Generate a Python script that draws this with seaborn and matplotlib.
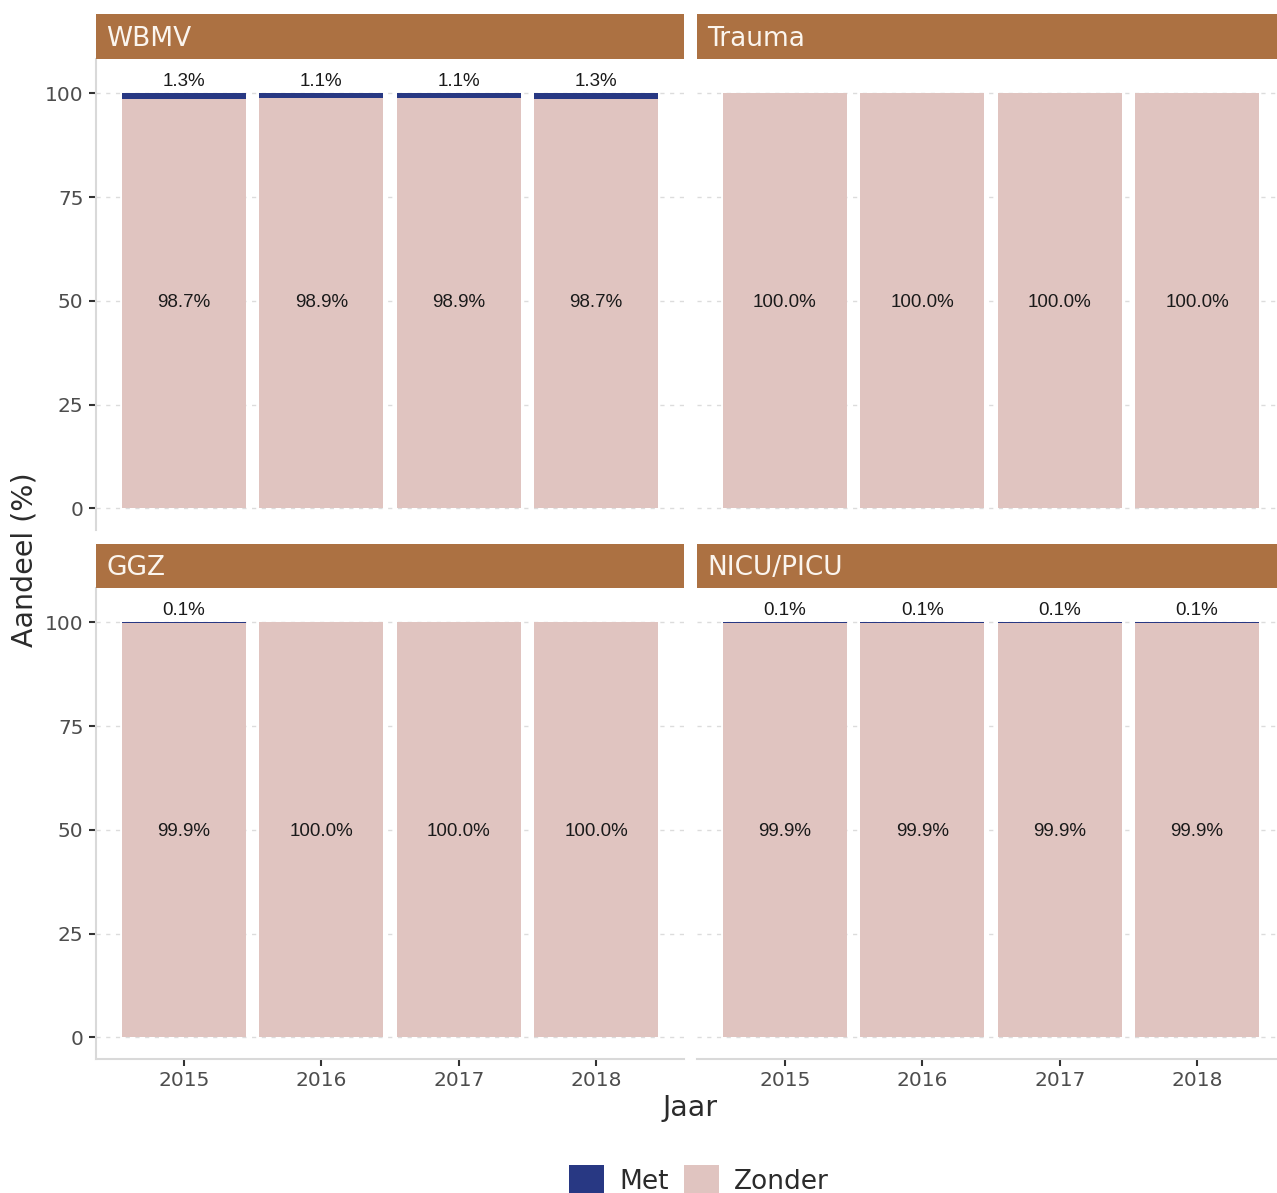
import matplotlib
matplotlib.use("Agg")
import matplotlib.pyplot as plt
from matplotlib.patches import Patch
import pandas as pd
import seaborn as sns

# data (percentages)
years = ["2015", "2016", "2017", "2018"]
panels = ["WBMV", "Trauma", "GGZ", "NICU/PICU"]
met_wbmv = [1.3, 1.1, 1.1, 1.3]
zonder_wbmv = [98.7, 98.9, 98.9, 98.7]
met_trauma = [0.0, 0.0, 0.0, 0.0]
zonder_trauma = [100.0, 100.0, 100.0, 100.0]
met_ggz = [0.1, 0.0, 0.0, 0.0]
zonder_ggz = [99.9, 100.0, 100.0, 100.0]
met_nicu = [0.1, 0.1, 0.1, 0.1]
zonder_nicu = [99.9, 99.9, 99.9, 99.9]

rows = []
for name, met, zonder in zip(panels,
                             [met_wbmv, met_trauma, met_ggz, met_nicu],
                             [zonder_wbmv, zonder_trauma, zonder_ggz, zonder_nicu]):
    for y, m, z in zip(years, met, zonder):
        rows.append({"Groep": name, "Jaar": y, "Met": m, "Zonder": z, "Totaal": m + z})
df = pd.DataFrame(rows)

met_col = "#283883"
zonder_col = "#E0C4C0"
strip_col = "#AC7142"
tick_col = "#4D4D4D"
grid_col = "#DCDCDC"
spine_col = "#D9D9D9"

sns.set_style("white")
plt.rcParams["font.family"] = ["DejaVu Sans"]

W, H = 1277, 1193
fig = plt.figure(figsize=(W / 100, H / 100), dpi=100)


def frac(x0, y0, x1, y1):
    return [x0 / W, 1 - y1 / H, (x1 - x0) / W, (y1 - y0) / H]


cols_x = [(96, 684), (697, 1285)]
rows_y = [((14, 59), (59, 530)), ((544, 588), (588, 1059))]

for i, name in enumerate(panels):
    r, c = divmod(i, 2)
    (sy0, sy1), (py0, py1) = rows_y[r]
    x0, x1 = cols_x[c]
    ax = fig.add_axes(frac(x0, py0, x1, py1))
    sub = df[df["Groep"] == name]

    sns.barplot(data=sub, x="Jaar", y="Totaal", order=years, color=met_col,
                saturation=1, width=0.9, linewidth=0, ax=ax, zorder=2)
    sns.barplot(data=sub, x="Jaar", y="Zonder", order=years, color=zonder_col,
                saturation=1, width=0.9, linewidth=0, ax=ax, zorder=3)

    for k, (_, rec) in enumerate(sub.iterrows()):
        ax.text(k, 49.6, f"{rec['Zonder']:.1f}%", ha="center",
                va="center", fontsize=13.5, family="Liberation Sans",
                color="#1a1a1a", zorder=5)
        if round(rec["Met"], 1) > 0:
            ax.text(k, 102.9, f"{rec['Met']:.1f}%", ha="center", va="center",
                    fontsize=13.5, family="Liberation Sans", color="#1a1a1a",
                    zorder=5)

    ax.set_xlim(-0.64, 3.64)
    ax.set_ylim(-5.2, 108.3)
    ax.set_yticks([0, 25, 50, 75, 100])
    ax.set_xlabel("")
    ax.set_ylabel("")
    ax.yaxis.grid(True, linestyle=(0, (3, 4)), color=grid_col, linewidth=1)
    ax.xaxis.grid(False)
    ax.set_axisbelow(True)
    for s in ax.spines.values():
        s.set_visible(False)
    ax.tick_params(axis="both", colors="#333333", labelcolor=tick_col,
                   labelsize=14.5, length=5, width=1.5, pad=4,
                   bottom=True, left=True)
    if c == 0:
        ax.spines["left"].set_visible(True)
        ax.spines["left"].set_color(spine_col)
        ax.spines["left"].set_linewidth(1.5)
    else:
        ax.tick_params(axis="y", left=False, labelleft=False)
    if r == 1:
        ax.spines["bottom"].set_visible(True)
        ax.spines["bottom"].set_color(spine_col)
        ax.spines["bottom"].set_linewidth(1.5)
    else:
        ax.tick_params(axis="x", bottom=False, labelbottom=False)

    sax = fig.add_axes(frac(x0, sy0, x1, sy1))
    sax.set_facecolor(strip_col)
    sax.set_xticks([])
    sax.set_yticks([])
    for s in sax.spines.values():
        s.set_visible(False)
    sax.text(10 / (x1 - x0), 0.45, name, transform=sax.transAxes, ha="left",
             va="center", fontsize=19, color="#FBF5EE")

fig.text(690 / W, 1 - 1108 / H, "Jaar", ha="center", va="center",
         fontsize=20.5, color="#2b2b2b")
fig.text(25 / W, 1 - 560 / H, "Aandeel (%)", ha="center", va="center",
         rotation=90, fontsize=20.5, color="#2b2b2b")

handles = [Patch(facecolor=met_col, edgecolor="none", label="Met"),
           Patch(facecolor=zonder_col, edgecolor="none", label="Zonder")]
fig.legend(handles=handles, loc="upper center",
           bbox_to_anchor=(699 / W, 1 - 1152 / H), ncol=2, frameon=False,
           fontsize=19, handlelength=1.33, handleheight=1.33,
           handletextpad=0.57, columnspacing=0.6, borderpad=0,
           labelcolor="#2b2b2b")

fig.savefig("out.png", dpi=100)
